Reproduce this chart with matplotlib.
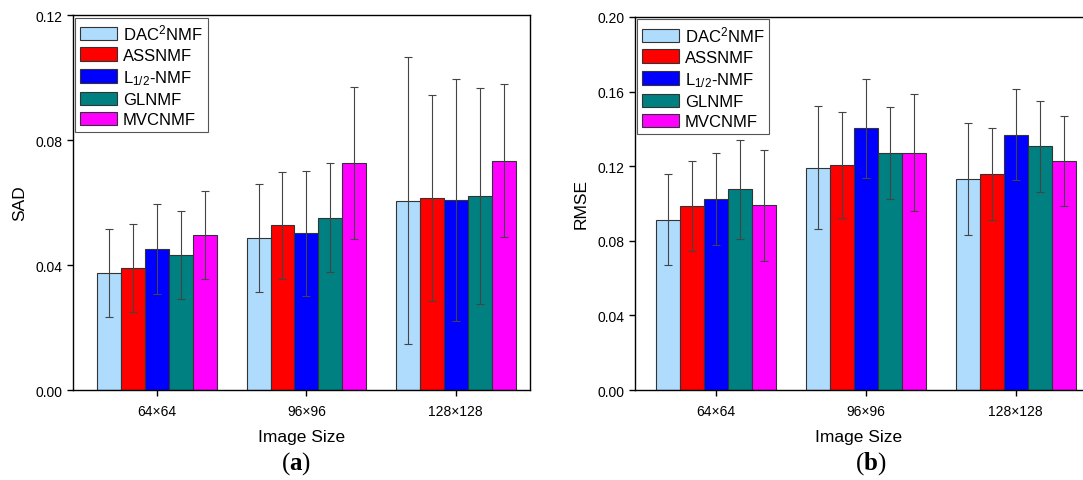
import numpy as np
import matplotlib
matplotlib.use('Agg')
import matplotlib.pyplot as plt

plt.rcParams['font.family'] = ['Liberation Sans', 'DejaVu Sans']
plt.rcParams['mathtext.fontset'] = 'custom'
plt.rcParams['mathtext.rm'] = 'Liberation Sans'
plt.rcParams['mathtext.it'] = 'Liberation Sans'
plt.rcParams['mathtext.bf'] = 'Liberation Serif:bold'

tamanhos = ['64×64', '96×96', '128×128']
metodos = ['DAC$^{2}$NMF', 'ASSNMF', 'L$_{1/2}$-NMF', 'GLNMF', 'MVCNMF']
cores = ['#afdcfd', '#ff0000', '#0000ff', '#008080', '#ff00ff']

# SAD (media e desvio) por metodo, um valor por tamanho de imagem
sad_media = {
    'DAC': [0.0374, 0.0487, 0.0606],
    'ASS': [0.0390, 0.0527, 0.0615],
    'L12': [0.0451, 0.0502, 0.0608],
    'GL':  [0.0432, 0.0552, 0.0620],
    'MVC': [0.0495, 0.0726, 0.0734],
}
sad_desvio = {
    'DAC': [0.0141, 0.0173, 0.0459],
    'ASS': [0.0141, 0.0172, 0.0329],
    'L12': [0.0143, 0.0200, 0.0387],
    'GL':  [0.0141, 0.0173, 0.0345],
    'MVC': [0.0141, 0.0243, 0.0245],
}
# RMSE (media e desvio)
rmse_media = {
    'DAC': [0.0913, 0.1193, 0.1132],
    'ASS': [0.0988, 0.1207, 0.1160],
    'L12': [0.1022, 0.1403, 0.1369],
    'GL':  [0.1076, 0.1270, 0.1306],
    'MVC': [0.0990, 0.1272, 0.1227],
}
rmse_desvio = {
    'DAC': [0.0244, 0.0331, 0.0299],
    'ASS': [0.0242, 0.0284, 0.0246],
    'L12': [0.0247, 0.0267, 0.0243],
    'GL':  [0.0265, 0.0247, 0.0245],
    'MVC': [0.0298, 0.0314, 0.0243],
}
chaves = ['DAC', 'ASS', 'L12', 'GL', 'MVC']

fig = plt.figure(figsize=(10.83, 4.81), dpi=100)
ax1 = fig.add_axes([0.0674, 0.1871, 0.422, 0.7796])
ax2 = fig.add_axes([0.5863, 0.1871, 0.4137, 0.7755])

x = np.arange(1, 4)
largura = 0.16

def desenhar(ax, medias, desvios, ylabel, yticks, xlim):
    for i, k in enumerate(chaves):
        pos = x + (i - 2) * largura
        ax.bar(pos, medias[k], largura, color=cores[i], edgecolor='#333333',
               linewidth=0.8, label=metodos[i], zorder=2)
        ax.errorbar(pos, medias[k], yerr=desvios[k], fmt='none', ecolor='#444444',
                    elinewidth=0.8, capsize=3, capthick=0.8, zorder=3)
    ax.set_xlim(*xlim)
    ax.set_ylim(0, yticks[-1])
    ax.set_yticks(yticks)
    ax.yaxis.set_major_formatter(matplotlib.ticker.FormatStrFormatter('%.2f'))
    ax.set_xticks(x)
    ax.set_xticklabels(tamanhos)
    ax.tick_params(axis='both', labelsize=10, direction='out', length=4, width=1)
    ax.tick_params(axis='x', pad=6)
    ax.set_xlabel('Image Size', fontsize=12.5, labelpad=8)
    ax.set_ylabel(ylabel, fontsize=12.5, labelpad=6)
    for s in ax.spines.values():
        s.set_linewidth(1.0)
    leg = ax.legend(loc='upper left', fontsize=12, handlelength=2.2, handleheight=0.85,
                    handletextpad=0.35, labelspacing=0.3, borderpad=0.3,
                    borderaxespad=0.15, fancybox=False, framealpha=1)
    leg.get_frame().set_edgecolor('#555555')
    leg.get_frame().set_linewidth(0.8)

desenhar(ax1, sad_media, sad_desvio, 'SAD', [0, 0.04, 0.08, 0.12], (0.438, 3.497))
desenhar(ax2, rmse_media, rmse_desvio, 'RMSE', [0, 0.04, 0.08, 0.12, 0.16, 0.20], (0.459, 3.45))
ax2.spines['right'].set_visible(False)

fig.text(0.273, 0.036, r'($\mathbf{a}$)', ha='center', va='center', fontsize=18,
         family='Liberation Serif')
fig.text(0.804, 0.036, r'($\mathbf{b}$)', ha='center', va='center', fontsize=18,
         family='Liberation Serif')

fig.savefig('out.png', dpi=100)
